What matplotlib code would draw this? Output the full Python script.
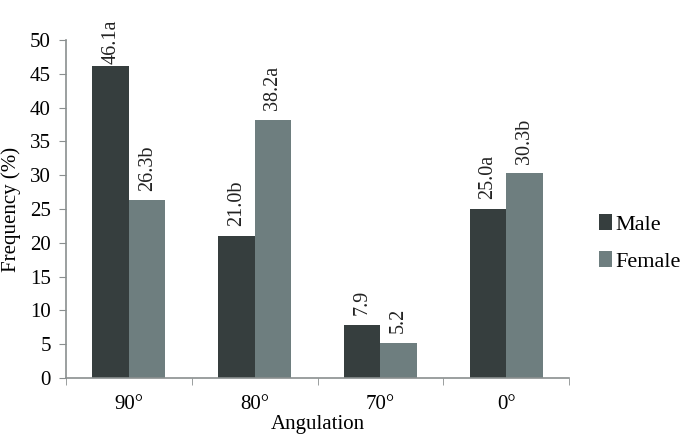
import matplotlib
matplotlib.use("Agg")
import matplotlib.pyplot as plt
import numpy as np

categories = ["90°", "80°", "70°", "0°"]
male = [46.1, 21.0, 7.9, 25.0]
female = [26.3, 38.2, 5.2, 30.3]
male_labels = ["46.1a", "21.0b", "7.9", "25.0a"]
female_labels = ["26.3b", "38.2a", "5.2", "30.3b"]

plt.rcParams["font.family"] = ["Liberation Serif", "DejaVu Serif"]

fig = plt.figure(figsize=(6.9, 4.36), dpi=100)
ax = fig.add_axes([0.0957, 0.133, 0.729, 0.775])

x = np.arange(len(categories))
w = 0.29
spine_col = "#8a8f8f"
b1 = ax.bar(x - w / 2, male, w, color="#363e3e", label="Male")
b2 = ax.bar(x + w / 2, female, w, color="#6e7e7f", label="Female")

for bars, labels in ((b1, male_labels), (b2, female_labels)):
    for rect, lab in zip(bars, labels):
        h = rect.get_height()
        # tall labels get squeezed down so they stay inside the figure
        off = 2 if h > 45 else 7
        ax.annotate(lab, (rect.get_x() + rect.get_width() / 2, h),
                    xytext=(0, off), textcoords="offset points", rotation=90,
                    ha="center", va="bottom", fontsize=14.5, color="#222222")

ax.set_xlim(-0.5, len(categories) - 0.5)
ax.set_ylim(0, 50)
ax.set_yticks(np.arange(0, 51, 5))
ax.set_xticks(x)
ax.set_xticklabels(categories)
ax.set_xticks(np.arange(-0.5, len(categories), 1), minor=True)
ax.tick_params(axis="x", which="major", length=0, labelsize=15, pad=12)
ax.tick_params(axis="x", which="minor", length=5, color=spine_col, direction="out")
ax.tick_params(axis="y", length=5, color=spine_col, labelsize=15, pad=6)

for s in ("top", "right"):
    ax.spines[s].set_visible(False)
for s in ("left", "bottom"):
    ax.spines[s].set_color(spine_col)
    ax.spines[s].set_linewidth(1.2)

ax.set_ylabel("Frequency (%)", fontsize=15, labelpad=6)
ax.set_xlabel("Angulation", fontsize=15, labelpad=1)

ax.legend(loc="center left", bbox_to_anchor=(1.02, 0.40), frameon=False,
          fontsize=16, handlelength=0.6, handleheight=0.75, handletextpad=0.15,
          labelspacing=0.7)

fig.savefig("out.png", dpi=100)
